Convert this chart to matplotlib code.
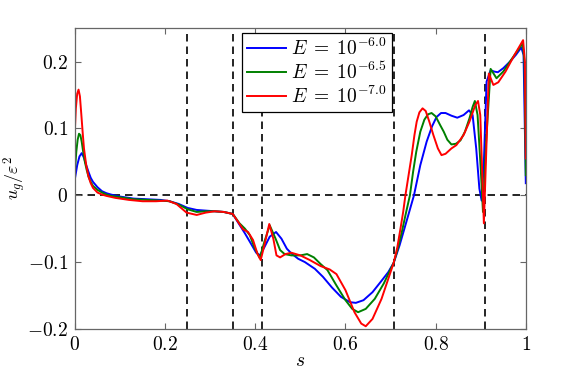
import matplotlib
matplotlib.use("Agg")
import matplotlib.pyplot as plt
from matplotlib.ticker import FuncFormatter

plt.rcParams['mathtext.fontset'] = 'cm'
plt.rcParams['font.family'] = 'serif'
plt.rcParams['font.serif'] = ['DejaVu Serif']

""" DATA """
labels = [r'$E\;=\;10^{-6.0}$', r'$E\;=\;10^{-6.5}$', r'$E\;=\;10^{-7.0}$']
colors = ['#0000ff', '#008000', '#ff0000']

s_blue = [0, 0.005, 0.01, 0.015, 0.02, 0.025, 0.03, 0.035, 0.04, 0.05, 0.06, 0.07, 0.08, 0.10,
          0.13, 0.16, 0.19, 0.21, 0.23, 0.25, 0.27, 0.29, 0.31, 0.33, 0.35, 0.363, 0.377, 0.39,
          0.402, 0.41, 0.42, 0.432, 0.446, 0.458, 0.47, 0.48, 0.495, 0.51, 0.532, 0.55, 0.57,
          0.59, 0.61, 0.623, 0.64, 0.66, 0.68, 0.695, 0.707, 0.72, 0.735, 0.752, 0.766, 0.78,
          0.792, 0.802, 0.812, 0.822, 0.835, 0.848, 0.862, 0.874, 0.882, 0.89, 0.897, 0.902,
          0.907, 0.913, 0.922, 0.93, 0.938, 0.95, 0.965, 0.978, 0.99, 0.995, 1.0]
u_blue = [0.025, 0.045, 0.058, 0.063, 0.056, 0.045, 0.035, 0.026, 0.02, 0.012, 0.006, 0.003,
          0.001, -0.002, -0.005, -0.006, -0.007, -0.009, -0.013, -0.019, -0.022, -0.023, -0.024,
          -0.025, -0.028, -0.042, -0.057, -0.072, -0.086, -0.09, -0.078, -0.062, -0.055, -0.065,
          -0.08, -0.087, -0.095, -0.1, -0.11, -0.122, -0.138, -0.152, -0.16, -0.161, -0.157,
          -0.145, -0.128, -0.115, -0.101, -0.075, -0.04, 0.0, 0.045, 0.08, 0.103, 0.117, 0.123,
          0.123, 0.119, 0.116, 0.12, 0.127, 0.12, 0.07, 0.01, -0.008, 0.05, 0.17, 0.187, 0.185,
          0.184, 0.19, 0.2, 0.21, 0.221, 0.21, 0.018]

s_green = [0, 0.003, 0.006, 0.009, 0.012, 0.015, 0.018, 0.022, 0.026, 0.03, 0.035, 0.04, 0.05,
           0.06, 0.07, 0.08, 0.10, 0.13, 0.16, 0.19, 0.21, 0.23, 0.25, 0.27, 0.29, 0.31, 0.33,
           0.35, 0.365, 0.377, 0.388, 0.398, 0.41, 0.42, 0.432, 0.445, 0.455, 0.465, 0.48, 0.5,
           0.515, 0.53, 0.545, 0.56, 0.58, 0.60, 0.615, 0.628, 0.645, 0.665, 0.685, 0.707, 0.716,
           0.725, 0.734, 0.743, 0.75, 0.757, 0.766, 0.775, 0.783, 0.791, 0.8, 0.81, 0.818, 0.826,
           0.835, 0.845, 0.855, 0.865, 0.875, 0.882, 0.887, 0.893, 0.9, 0.905, 0.912, 0.922,
           0.935, 0.95, 0.97, 0.993, 0.997, 1.0]
u_green = [0.037, 0.065, 0.083, 0.092, 0.09, 0.08, 0.066, 0.05, 0.038, 0.028, 0.02, 0.014,
           0.008, 0.004, 0.001, -0.001, -0.003, -0.006, -0.007, -0.008, -0.009, -0.014, -0.021,
           -0.025, -0.024, -0.024, -0.025, -0.028, -0.042, -0.05, -0.06, -0.078, -0.094, -0.07,
           -0.045, -0.065, -0.082, -0.088, -0.09, -0.09, -0.088, -0.093, -0.103, -0.112, -0.135,
           -0.157, -0.17, -0.175, -0.17, -0.155, -0.132, -0.101, -0.08, -0.055, -0.027, 0.0,
           0.035, 0.065, 0.095, 0.113, 0.121, 0.123, 0.118, 0.105, 0.095, 0.083, 0.076, 0.077,
           0.082, 0.095, 0.115, 0.132, 0.141, 0.12, 0.04, -0.025, 0.08, 0.189, 0.175, 0.185,
           0.205, 0.227, 0.2, 0.03]

s_red = [0, 0.002, 0.005, 0.008, 0.011, 0.014, 0.017, 0.02, 0.025, 0.03, 0.035, 0.04, 0.05,
         0.06, 0.07, 0.09, 0.12, 0.15, 0.18, 0.205, 0.225, 0.2475, 0.27, 0.29, 0.31, 0.33, 0.35,
         0.362, 0.373, 0.384, 0.395, 0.405, 0.412, 0.42, 0.431, 0.44, 0.447, 0.455, 0.467, 0.48,
         0.5, 0.521, 0.545, 0.565, 0.58, 0.60, 0.62, 0.635, 0.645, 0.66, 0.68, 0.695, 0.707,
         0.715, 0.722, 0.728, 0.733, 0.74, 0.747, 0.753, 0.758, 0.764, 0.771, 0.778, 0.786,
         0.795, 0.805, 0.813, 0.822, 0.835, 0.846, 0.862, 0.875, 0.888, 0.894, 0.899, 0.903,
         0.907, 0.912, 0.918, 0.928, 0.939, 0.955, 0.975, 0.994, 0.998, 1.0]
u_red = [0.1, 0.13, 0.152, 0.158, 0.148, 0.122, 0.095, 0.07, 0.045, 0.028, 0.018, 0.011, 0.004,
         0.001, -0.001, -0.004, -0.007, -0.009, -0.009, -0.008, -0.013, -0.026, -0.0295, -0.026,
         -0.024, -0.025, -0.028, -0.04, -0.051, -0.055, -0.067, -0.088, -0.097, -0.075, -0.043,
         -0.065, -0.09, -0.093, -0.088, -0.086, -0.09, -0.097, -0.106, -0.111, -0.118, -0.142,
         -0.175, -0.192, -0.196, -0.185, -0.155, -0.125, -0.101, -0.078, -0.05, -0.025, 0.0,
         0.03, 0.06, 0.09, 0.11, 0.124, 0.13, 0.126, 0.11, 0.09, 0.07, 0.06, 0.062, 0.07, 0.075,
         0.09, 0.11, 0.135, 0.141, 0.12, 0.04, -0.042, 0.06, 0.182, 0.165, 0.169, 0.185, 0.21,
         0.232, 0.2, 0.055]

vlines_s = [0.2475, 0.35, 0.415, 0.7075, 0.909]

xticks = [0, 0.2, 0.4, 0.6, 0.8, 1]
yticks = [-0.2, -0.1, 0, 0.1, 0.2]

""" PLOT """
fig = plt.figure(figsize=(5.81, 3.70), dpi=100)
ax = fig.add_axes([0.129, 0.111, 0.776, 0.813])

for xv in vlines_s:
    ax.axvline(xv, color='black', lw=1.2, dashes=(4.5, 3), zorder=1)
ax.axhline(0, color='black', lw=1.2, dashes=(4.5, 3), zorder=1)

series = [(s_blue, u_blue), (s_green, u_green), (s_red, u_red)]
for (sx, uy), lab, col in zip(series, labels, colors):
    ax.plot(sx, uy, color=col, lw=1.4, label=lab, zorder=2)

ax.set_xlim(0, 1)
ax.set_ylim(-0.2, 0.25)
ax.set_xticks(xticks)
ax.set_yticks(yticks)

def fmt(v, pos):
    if abs(v) < 1e-9:
        return r'$0$'
    return r'$%g$' % v

ax.xaxis.set_major_formatter(FuncFormatter(fmt))
ax.yaxis.set_major_formatter(FuncFormatter(fmt))
ax.tick_params(direction='in', top=True, right=True, length=4, width=0.8,
               color='0.4', labelsize=14, pad=5)
for sp in ax.spines.values():
    sp.set_color('0.4')
    sp.set_linewidth(0.9)

ax.set_xlabel(r'$s$', fontsize=14, labelpad=-1)
ax.set_ylabel(r'$u_g/\varepsilon^2$', fontsize=13, labelpad=-1)

leg = ax.legend(loc='upper left', bbox_to_anchor=(0.37, 0.985), borderaxespad=0,
                fontsize=14, fancybox=False, framealpha=1, handlelength=2.0,
                handletextpad=0.3, labelspacing=0.15, borderpad=0.25)
leg.get_frame().set_edgecolor('black')
leg.get_frame().set_linewidth(0.9)

plt.savefig('out.png', dpi=100)
